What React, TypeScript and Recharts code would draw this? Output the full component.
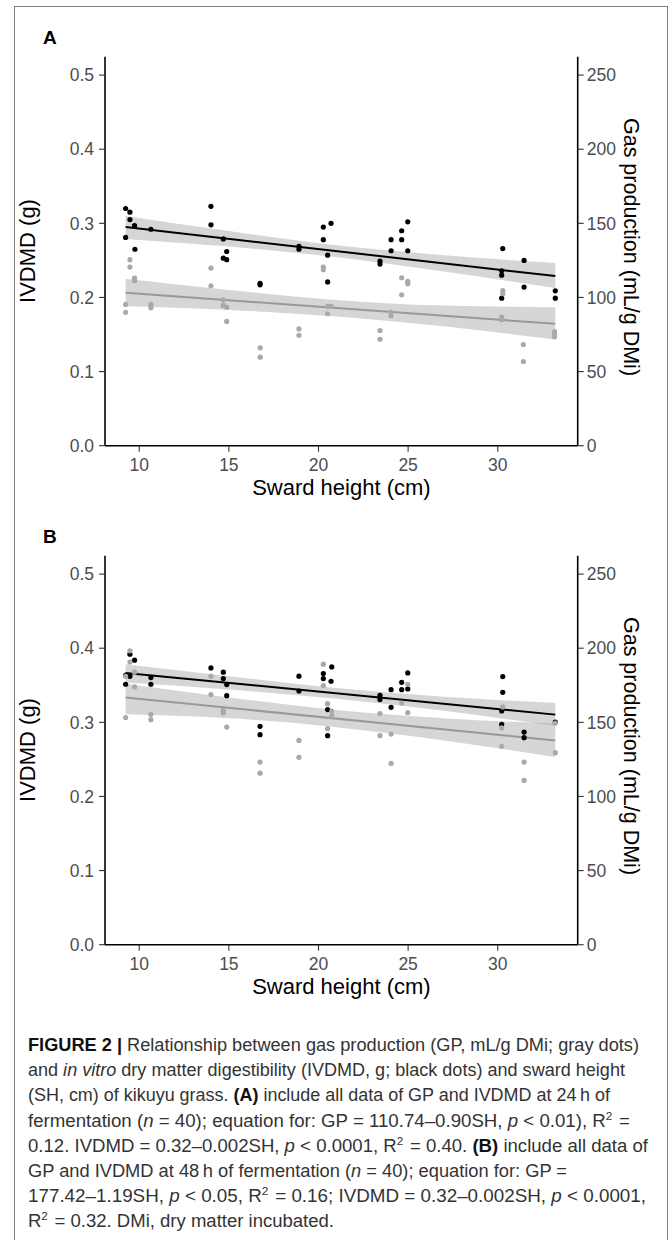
import React from 'react';
import { ComposedChart, Scatter, Area, Line, XAxis, YAxis } from 'recharts';

const FONT = '"Liberation Sans", Arial, Helvetica, sans-serif';

// Axis ticks / domains
const xTicks = [10, 15, 20, 25, 30];
const leftTicks = [0, 0.1, 0.2, 0.3, 0.4, 0.5];
const rightTicks = [0, 50, 100, 150, 200, 250];
const xDomain: [number, number] = [8.09, 34.46];
const leftDomain: [number, number] = [0, 0.5248];
const rightDomain: [number, number] = [0, 262.4];

// Panel A (24 h): IVDMD (g), black dots
const ivdmd24 = [
  { x: 9.24, y: 0.320 }, { x: 9.48, y: 0.315 }, { x: 9.48, y: 0.305 }, { x: 9.74, y: 0.297 },
  { x: 9.24, y: 0.281 }, { x: 9.76, y: 0.265 }, { x: 10.65, y: 0.292 },
  { x: 14.0, y: 0.323 }, { x: 14.0, y: 0.298 }, { x: 14.69, y: 0.279 }, { x: 14.88, y: 0.262 },
  { x: 14.69, y: 0.253 }, { x: 14.88, y: 0.251 },
  { x: 16.74, y: 0.219 }, { x: 16.74, y: 0.217 }, { x: 18.91, y: 0.269 }, { x: 18.91, y: 0.265 },
  { x: 20.27, y: 0.295 }, { x: 20.27, y: 0.278 }, { x: 20.7, y: 0.300 }, { x: 20.51, y: 0.257 },
  { x: 20.51, y: 0.221 },
  { x: 23.43, y: 0.249 }, { x: 23.43, y: 0.245 }, { x: 24.05, y: 0.278 }, { x: 24.05, y: 0.263 },
  { x: 24.64, y: 0.290 }, { x: 24.64, y: 0.278 }, { x: 24.98, y: 0.302 }, { x: 24.98, y: 0.263 },
  { x: 30.28, y: 0.266 }, { x: 30.22, y: 0.236 }, { x: 30.22, y: 0.230 }, { x: 30.22, y: 0.199 },
  { x: 31.47, y: 0.250 }, { x: 31.47, y: 0.214 }, { x: 33.21, y: 0.209 }, { x: 33.21, y: 0.199 },
];

// Panel A (24 h): gas production (mL/g DMi), gray dots
const gp24 = [
  { x: 9.48, y: 125.5 }, { x: 9.48, y: 120.5 }, { x: 9.74, y: 113.0 }, { x: 9.74, y: 111.3 },
  { x: 9.24, y: 95.3 }, { x: 9.24, y: 90.0 }, { x: 10.65, y: 95.3 }, { x: 10.65, y: 93.0 },
  { x: 14.0, y: 119.8 }, { x: 14.0, y: 107.9 }, { x: 14.69, y: 98.4 }, { x: 14.69, y: 94.6 },
  { x: 14.88, y: 93.4 }, { x: 14.88, y: 83.8 },
  { x: 16.75, y: 66.0 }, { x: 16.75, y: 59.7 }, { x: 18.91, y: 78.8 }, { x: 18.91, y: 74.5 },
  { x: 20.27, y: 120.5 }, { x: 20.27, y: 118.7 }, { x: 20.51, y: 94.0 }, { x: 20.7, y: 94.0 },
  { x: 20.51, y: 89.0 },
  { x: 23.43, y: 77.7 }, { x: 23.43, y: 71.8 }, { x: 24.05, y: 90.0 }, { x: 24.05, y: 87.7 },
  { x: 24.64, y: 113.3 }, { x: 24.64, y: 101.8 }, { x: 24.98, y: 110.8 }, { x: 24.98, y: 109.3 },
  { x: 30.28, y: 104.7 }, { x: 30.28, y: 102.5 }, { x: 30.22, y: 86.7 }, { x: 30.22, y: 85.0 },
  { x: 31.43, y: 68.2 }, { x: 31.43, y: 56.8 }, { x: 33.17, y: 77.0 }, { x: 33.17, y: 75.2 },
  { x: 33.17, y: 73.5 },
];

// Panel A fitted lines and confidence bands
const fit24 = [
  { x: 9.24, ivdmdFit: 0.295, ivdmdBand: [0.279, 0.310], gpFit: 103.2, gpBand: [94.0, 112.6] },
  { x: 15.0, ivdmdFit: null, ivdmdBand: [0.2686, 0.2896], gpFit: null, gpBand: [91.6, 105.0] },
  { x: 20.6, ivdmdFit: null, ivdmdBand: [0.2555, 0.2715], gpFit: null, gpBand: [87.5, 98.7] },
  { x: 27.0, ivdmdFit: null, ivdmdBand: [0.235, 0.257], gpFit: null, gpBand: [80.5, 94.5] },
  { x: 33.21, ivdmdFit: 0.2288, ivdmdBand: [0.2126, 0.2464], gpFit: 82.2, gpBand: [71.6, 93.4] },
];

// Panel B (48 h): IVDMD (g), black dots
const ivdmd48 = [
  { x: 9.24, y: 0.3635 }, { x: 9.24, y: 0.3514 }, { x: 9.48, y: 0.392 }, { x: 9.74, y: 0.3838 },
  { x: 9.48, y: 0.362 }, { x: 10.65, y: 0.3604 }, { x: 10.65, y: 0.3514 },
  { x: 14.0, y: 0.3734 }, { x: 14.69, y: 0.3676 }, { x: 14.69, y: 0.359 }, { x: 14.88, y: 0.351 },
  { x: 14.88, y: 0.336 },
  { x: 16.74, y: 0.2946 }, { x: 16.74, y: 0.2834 }, { x: 18.91, y: 0.3622 }, { x: 18.91, y: 0.3423 },
  { x: 20.27, y: 0.3658 }, { x: 20.27, y: 0.359 }, { x: 20.74, y: 0.3748 }, { x: 20.7, y: 0.3554 },
  { x: 20.51, y: 0.3172 }, { x: 20.51, y: 0.282 },
  { x: 23.43, y: 0.3365 }, { x: 23.43, y: 0.3307 }, { x: 24.05, y: 0.3441 }, { x: 24.05, y: 0.3203 },
  { x: 24.64, y: 0.354 }, { x: 24.64, y: 0.3441 }, { x: 24.98, y: 0.3667 }, { x: 24.98, y: 0.345 },
  { x: 30.28, y: 0.3617 }, { x: 30.28, y: 0.3405 }, { x: 30.22, y: 0.3153 }, { x: 30.22, y: 0.2973 },
  { x: 31.47, y: 0.2869 }, { x: 31.47, y: 0.2793 }, { x: 33.21, y: 0.3004 },
];

// Panel B (48 h): gas production (mL/g DMi), gray dots
const gp48 = [
  { x: 9.48, y: 198.2 }, { x: 9.48, y: 190.7 }, { x: 9.74, y: 183.8 }, { x: 9.24, y: 181.0 },
  { x: 9.74, y: 173.9 }, { x: 9.24, y: 153.2 }, { x: 10.65, y: 155.4 }, { x: 10.65, y: 151.8 },
  { x: 14.0, y: 181.0 }, { x: 14.0, y: 168.7 }, { x: 14.69, y: 158.0 }, { x: 14.69, y: 156.3 },
  { x: 14.88, y: 146.8 },
  { x: 16.74, y: 123.2 }, { x: 16.74, y: 115.7 }, { x: 18.91, y: 137.8 }, { x: 18.91, y: 126.4 },
  { x: 20.27, y: 189.2 }, { x: 20.27, y: 174.8 }, { x: 20.51, y: 162.6 }, { x: 20.51, y: 145.7 },
  { x: 20.74, y: 157.6 }, { x: 20.74, y: 154.5 },
  { x: 23.43, y: 155.9 }, { x: 23.43, y: 141.0 }, { x: 24.05, y: 142.1 }, { x: 24.05, y: 122.3 },
  { x: 24.64, y: 163.0 }, { x: 24.98, y: 175.7 }, { x: 24.98, y: 156.5 },
  { x: 30.28, y: 160.4 }, { x: 30.22, y: 146.2 }, { x: 30.22, y: 133.8 },
  { x: 31.47, y: 123.2 }, { x: 31.47, y: 110.8 }, { x: 33.21, y: 149.5 }, { x: 33.21, y: 129.5 },
];

// Panel B fitted lines and confidence bands
const fit48 = [
  { x: 9.24, ivdmdFit: 0.3667, ivdmdBand: [0.3536, 0.3784], gpFit: 166.7, gpBand: [155.5, 176.0] },
  { x: 15.0, ivdmdFit: null, ivdmdBand: [0.3442, 0.3622], gpFit: null, gpBand: [152.8, 166.8] },
  { x: 21.0, ivdmdFit: null, ivdmdBand: [0.3319, 0.3463], gpFit: null, gpBand: [146.7, 158.3] },
  { x: 27.0, ivdmdFit: null, ivdmdBand: [0.3155, 0.3345], gpFit: null, gpBand: [137.8, 152.8] },
  { x: 33.21, ivdmdFit: 0.3104, ivdmdBand: [0.295, 0.3261], gpFit: 137.8, gpBand: [126.6, 149.1] },
];

const panelLetters = ['A', 'B'];
const xTitle = 'Sward height (cm)';
const leftTitle = 'IVDMD (g)';
const rightTitle = 'Gas production (mL/g DMi)';

const tickStyle = { fill: '#4d4d4d', fontSize: 17.5, fontFamily: FONT };
const axisLineStyle = { stroke: '#000', strokeWidth: 1.6 };
const tickLineStyle = { stroke: '#333', strokeWidth: 1.1 };

const dot = (color: string) => (p: any) =>
  p.cx == null || p.cy == null ? <g /> : <circle cx={p.cx} cy={p.cy} r={2.6} fill={color} />;

function Panel({ fit, black, gray }: { fit: any[]; black: any[]; gray: any[] }) {
  return (
    <ComposedChart
      width={670}
      height={500}
      data={fit}
      margin={{ top: 56.7, right: 10, bottom: 24.3, left: 10 }}
    >
      <XAxis
        type="number"
        dataKey="x"
        domain={xDomain}
        ticks={xTicks}
        interval={0}
        allowDataOverflow
        height={30}
        tickSize={6}
        tickMargin={7}
        axisLine={axisLineStyle}
        tickLine={tickLineStyle}
        tick={tickStyle}
      />
      <YAxis
        yAxisId="left"
        orientation="left"
        type="number"
        domain={leftDomain}
        ticks={leftTicks}
        interval={0}
        allowDataOverflow
        width={95}
        tickSize={6}
        tickMargin={5}
        tickFormatter={(v: number) => v.toFixed(1)}
        axisLine={axisLineStyle}
        tickLine={tickLineStyle}
        tick={tickStyle}
      />
      <YAxis
        yAxisId="right"
        orientation="right"
        type="number"
        domain={rightDomain}
        ticks={rightTicks}
        interval={0}
        allowDataOverflow
        width={82.3}
        tickSize={6}
        tickMargin={3}
        axisLine={axisLineStyle}
        tickLine={tickLineStyle}
        tick={tickStyle}
      />
      <Scatter yAxisId="left" data={black} dataKey="y" fill="#000" shape={dot('#000')} isAnimationActive={false} />
      <Scatter yAxisId="right" data={gray} dataKey="y" fill="#a9a9a9" shape={dot('#a9a9a9')} isAnimationActive={false} />
      <Area yAxisId="left" dataKey="ivdmdBand" type="monotone" stroke="none" fill="#999999" fillOpacity={0.4} isAnimationActive={false} dot={false} activeDot={false} />
      <Area yAxisId="right" dataKey="gpBand" type="monotone" stroke="none" fill="#999999" fillOpacity={0.4} isAnimationActive={false} dot={false} activeDot={false} />
      <Line yAxisId="left" dataKey="ivdmdFit" connectNulls dot={false} activeDot={false} stroke="#000" strokeWidth={2} isAnimationActive={false} />
      <Line yAxisId="right" dataKey="gpFit" connectNulls dot={false} activeDot={false} stroke="#999999" strokeWidth={2} isAnimationActive={false} />
    </ComposedChart>
  );
}

const CAP_X = 28;
const CAP_Y0 = 1051;
const CAP_DY = 25.2;
const CAP_FS = 17.5;

function Sup({ children }: { children: React.ReactNode }) {
  return (
    <>
      <tspan dy={-7} fontSize={11}>{children}</tspan>
      <tspan dy={7}>{'\u200a'}</tspan>
    </>
  );
}

export default function App() {
  const capLine = (i: number, len: number, content: React.ReactNode) => (
    <text
      key={i}
      x={CAP_X}
      y={CAP_Y0 + i * CAP_DY}
      fontSize={CAP_FS}
      fill="#333"
      fontFamily={'"Liberation Sans Narrow", "Liberation Sans", Arial, sans-serif'}
      textLength={len}
      lengthAdjust="spacingAndGlyphs"
    >
      {content}
    </text>
  );
  const offsets = [0, 499];
  return (
    <div style={{ position: 'absolute', left: 0, top: 0, width: 670, height: 1240, background: '#fff', overflow: 'hidden' }}>
      <div
        style={{
          position: 'absolute',
          left: 13.5,
          top: 5.5,
          width: 654,
          height: 1260,
          border: '1.3px solid #808080',
          boxSizing: 'border-box',
        }}
      />
      <div style={{ position: 'absolute', left: 0, top: offsets[0] }}>
        <Panel fit={fit24} black={ivdmd24} gray={gp24} />
      </div>
      <div style={{ position: 'absolute', left: 0, top: offsets[1] }}>
        <Panel fit={fit48} black={ivdmd48} gray={gp48} />
      </div>
      <svg width={670} height={1240} style={{ position: 'absolute', left: 0, top: 0, pointerEvents: 'none' }}>
        {offsets.map((o, k) => (
          <g key={k} fontFamily={FONT}>
            <text x={43} y={44 + o} fontSize={19} fontWeight="bold" fill="#000">{panelLetters[k]}</text>
            <text
              x={27}
              y={251 + o}
              fontSize={22}
              fill="#000"
              textAnchor="middle"
              dominantBaseline="central"
              transform={`rotate(-90 27 ${251 + o})`}
            >
              {leftTitle}
            </text>
            <text
              x={631}
              y={247 + o}
              fontSize={21.5}
              fill="#000"
              textAnchor="middle"
              dominantBaseline="central"
              transform={`rotate(90 631 ${247 + o})`}
            >
              {rightTitle}
            </text>
            <text x={341.4} y={495 + o} fontSize={22} fill="#000" textAnchor="middle">{xTitle}</text>
          </g>
        ))}
        {capLine(0, 611, <>
          <tspan fontWeight="bold" fill="#111">FIGURE 2 | </tspan>Relationship between gas production (GP, mL/g DMi; gray dots)
        </>)}
        {capLine(1, 597, <>
          and <tspan fontStyle="italic">in vitro</tspan> dry matter digestibility (IVDMD, g; black dots) and sward height
        </>)}
        {capLine(2, 582, <>
          (SH, cm) of kikuyu grass. <tspan fontWeight="bold" fill="#111">(A)</tspan> include all data of GP and IVDMD at 24{'\u2009'}h of
        </>)}
        {capLine(3, 602, <>
          fermentation (<tspan fontStyle="italic">n</tspan> = 40); equation for: GP = 110.74–0.90SH, <tspan fontStyle="italic">p</tspan> {'<'} 0.01), R<Sup>2</Sup> =
        </>)}
        {capLine(4, 620, <>
          0.12. IVDMD = 0.32–0.002SH, <tspan fontStyle="italic">p</tspan> {'<'} 0.0001, R<Sup>2</Sup> = 0.40. <tspan fontWeight="bold" fill="#111">(B)</tspan> include all data of
        </>)}
        {capLine(5, 539, <>
          GP and IVDMD at 48{'\u2009'}h of fermentation (<tspan fontStyle="italic">n</tspan> = 40); equation for: GP =
        </>)}
        {capLine(6, 618, <>
          177.42–1.19SH, <tspan fontStyle="italic">p</tspan> {'<'} 0.05, R<Sup>2</Sup> = 0.16; IVDMD = 0.32–0.002SH, <tspan fontStyle="italic">p</tspan> {'<'} 0.0001,
        </>)}
        {capLine(7, 306, <>
          R<Sup>2</Sup> = 0.32. DMi, dry matter incubated.
        </>)}
      </svg>
    </div>
  );
}
